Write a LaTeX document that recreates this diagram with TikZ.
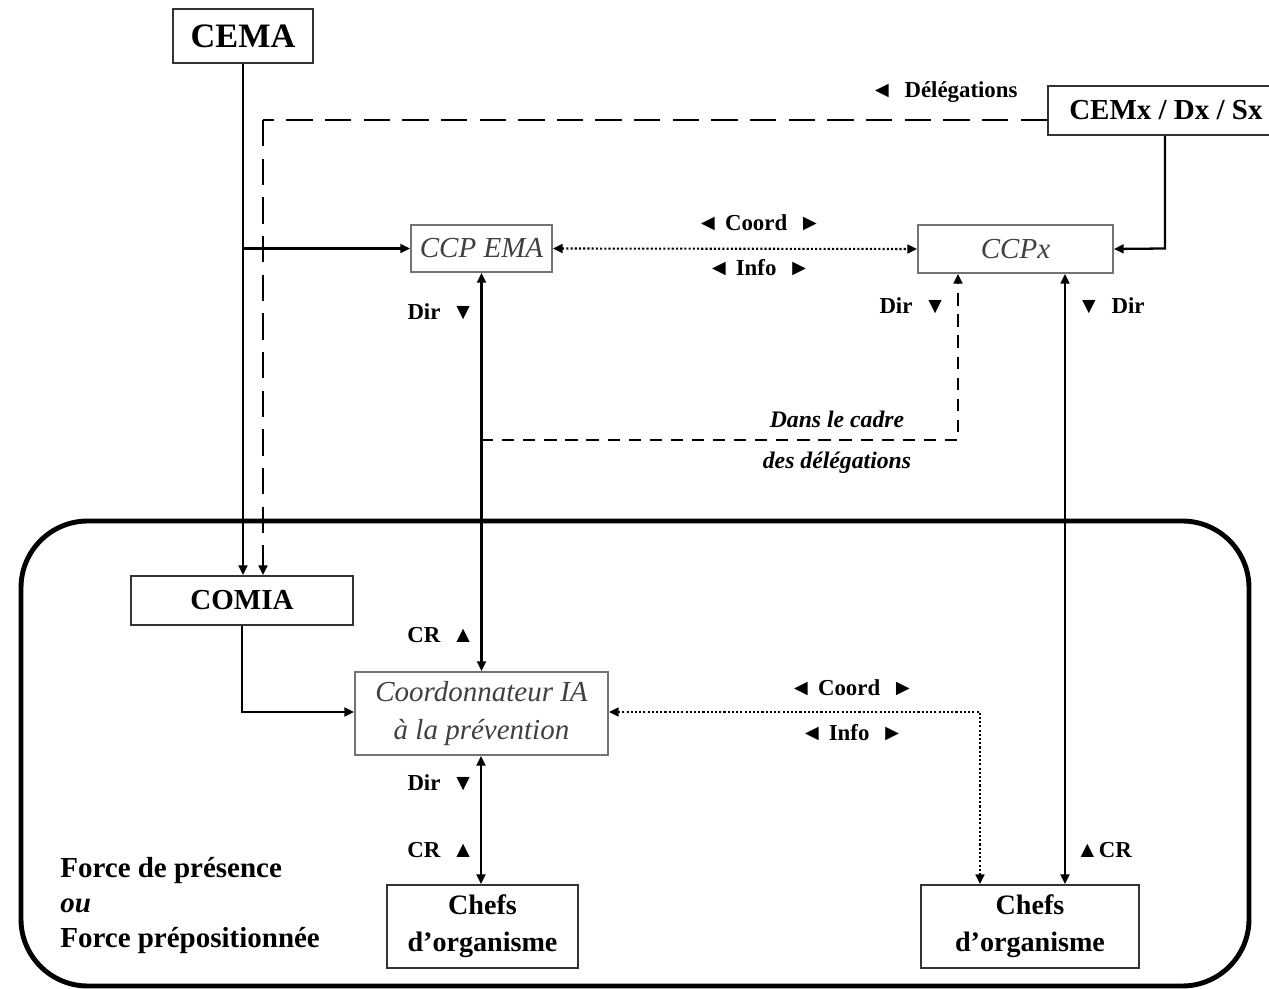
\documentclass[tikz,border=0pt]{standalone}
\usepackage{fontspec}
\setmainfont{Liberation Serif}
\usetikzlibrary{arrows.meta}
\begin{document}
\begin{tikzpicture}[x=0.02cm,y=-0.02cm,
 box/.style={draw=black!80,line width=1.1pt,fill=white,inner sep=0pt,align=center,font=\bfseries\fontsize{16.5}{21}\selectfont},
 ibox/.style={draw=black!55,line width=1.1pt,fill=white,inner sep=0pt,align=center,font=\itshape\fontsize{16.5}{22}\selectfont,text=black!75},
 tipend/.style={-{Triangle[length=5.5pt,width=5pt]}},
 tipboth/.style={{Triangle[length=5.5pt,width=5pt]}-{Triangle[length=5.5pt,width=5pt]}},
 sline/.style={line width=1.3pt},
 dline/.style={line width=1.7pt,dash pattern=on 15pt off 7pt},
 dsline/.style={line width=1.3pt,dash pattern=on 7pt off 5pt},
 dotline/.style={line width=1.2pt,dash pattern=on 1.2pt off 1.2pt},
 lbl/.style={font=\bfseries\fontsize{13}{15}\selectfont,inner sep=0pt},
 ilbl/.style={font=\bfseries\itshape\fontsize{13.5}{15}\selectfont,inner sep=0pt},
]
\useasboundingbox (0,0) rectangle (1269,989);

% frame
\draw[line width=2.8pt,rounded corners=38pt] (21,521) rectangle (1249,986);

% nodes
\node[box,minimum width=2.8cm,minimum height=1.08cm,font=\bfseries\fontsize{19.5}{23}\selectfont] (cema) at (243,36) {CEMA};
\node[box,minimum width=4.72cm,minimum height=0.98cm,anchor=west] (cemx) at (1047,110.5) {CEMx / Dx / Sx};
\node[ibox,minimum width=2.82cm,minimum height=0.94cm] (ccpema) at (481.5,248.5) {CCP EMA};
\node[ibox,minimum width=3.9cm,minimum height=0.96cm] (ccpx) at (1015.5,249) {CCPx};
\node[box,minimum width=4.44cm,minimum height=0.98cm] (comia) at (242,600.5) {COMIA};
\node[ibox,minimum width=5.06cm,minimum height=1.66cm] (coord) at (481.5,713.5) {Coordonnateur IA\\à la prévention};
\node[box,minimum width=3.82cm,minimum height=1.66cm,font=\bfseries\fontsize{16}{21}\selectfont] (chefsl) at (482.5,926.5) {Chefs\\d’organisme};
\node[box,minimum width=4.36cm,minimum height=1.66cm,font=\bfseries\fontsize{16}{21}\selectfont] (chefsr) at (1030,926.5) {Chefs\\d’organisme};

% coordinates
\coordinate (cematurn) at (cema.south |- ccpema.west);
\coordinate (delegturn) at (263,120);
\coordinate (cemxturn) at (1165,248.5);
\coordinate (dcorner) at (958,440);
\coordinate (dstart) at (481,440);
\coordinate (comiaturn) at (242,712);
\coordinate (dotturn) at (980,712);

% CEMA -> COMIA
\draw[sline,tipend] (cema.south) -- (cema.south |- comia.north);
\draw[sline,tipend] (cematurn) -- (ccpema.west);
% Delegations dashed
\draw[dline] (cemx.west |- delegturn) -- (delegturn);
\draw[dline,tipend] (delegturn) -- (delegturn |- comia.north);
% CEMx -> CCPx
\draw[sline,tipend] (cemx.south -| cemxturn) -- (cemxturn) -- (ccpx.east);
% CCP EMA <-> CCPx
\draw[dotline,tipboth] (ccpema.east) -- (ccpx.west);
% CCP EMA <-> Coord
\draw[sline,tipboth] (ccpema.south) -- (coord.north);
% dashed delegations to CCPx
\draw[dsline,tipend] (dstart) -- (dcorner) -- (dcorner |- ccpx.south);
% CCPx <-> Chefs right
\draw[sline,tipboth] (ccpx.south -| 1065,0) -- (chefsr.north -| 1065,0);
% COMIA -> Coord
\draw[sline,tipend] (comia.south) -- (comiaturn) -- (coord.west |- comiaturn);
% Coord <-> Chefs right dotted
\draw[dotline,tipboth] (coord.east |- dotturn) -- (dotturn) -- (dotturn |- chefsr.north);
% Coord <-> Chefs left
\draw[sline,tipboth] (coord.south -| 481,0) -- (chefsl.north -| 481,0);

% labels
\node[lbl] (ldeleg) at (944,92) {◄ \ Délégations};
\node[lbl] (lcoord1) at (759,223) {◄ Coord \ ►};
\node[lbl] (linfo1) at (759,268) {◄ Info \ ►};
\node[lbl] (ldir1) at (441,312) {Dir \ ▼};
\node[lbl] (ldir2) at (913,306) {Dir \ ▼};
\node[lbl] (ldir3) at (1111,306) {▼ \ Dir};
\node[ilbl] (ldans) at (837,419) {Dans le cadre};
\node[ilbl] (ldes) at (837,463) {des délégations};
\node[lbl] (lcr1) at (441,635) {CR \ ▲};
\node[lbl] (lcoord2) at (852,688) {◄ Coord \ ►};
\node[lbl] (linfo2) at (852,733) {◄ Info \ ►};
\node[lbl] (ldir4) at (441,783) {Dir \ ▼};
\node[lbl] (lcr2) at (441,850) {CR \ ▲};
\node[lbl] (lcr3) at (1104,850) {▲CR};
\node[font=\bfseries\fontsize{16.5}{20}\selectfont,align=left,anchor=north west,inner sep=0pt] (force) at (60,857) {Force de présence\\\textit{ou}\\Force prépositionnée};
\end{tikzpicture}
\end{document}
